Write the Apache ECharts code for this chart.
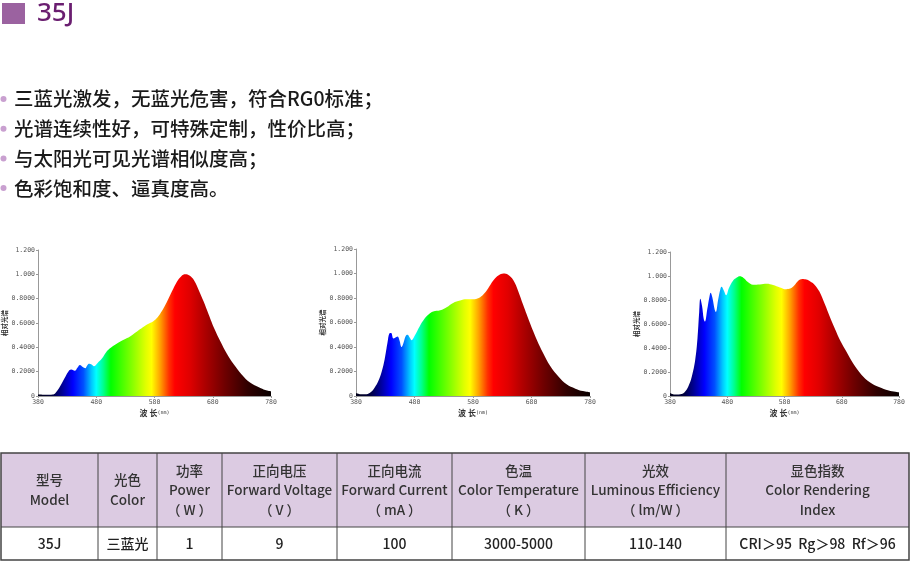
<!DOCTYPE html>
<html lang="zh-CN">
<head>
<meta charset="utf-8">
<title>35J</title>
<script src="https://cdn.jsdelivr.net/npm/echarts@6.0.0/dist/echarts.min.js"></script>
<style>
  html, body { margin: 0; padding: 0; background: #fff; }
  #main { width: 915px; height: 567px; }
</style>
</head>
<body>
<div id="main"></div>
<script>
// spectrum 1 (left)
var wl1 = [380,395,405,410,418,426,432,437,443,448,452,457,461,465,468,472,476,482,490,497,503,515,528,538,550,560,568,578,585,593,601,610,618,626,633,640,648,656,664,673,683,693,704,716,730,744,760,770,780];
var sp1 = [0.012,0.01,0.012,0.025,0.08,0.15,0.2,0.217,0.208,0.235,0.255,0.238,0.228,0.255,0.265,0.258,0.245,0.27,0.31,0.36,0.39,0.43,0.465,0.49,0.53,0.565,0.59,0.615,0.645,0.7,0.77,0.86,0.935,0.985,1.0,0.99,0.95,0.87,0.78,0.67,0.55,0.45,0.35,0.26,0.175,0.11,0.07,0.05,0.04];
// spectrum 2 (middle)
var wl2 = [380,388,398,405,412,418,424,429,434,437,440,444,447,451,454,458,461,465,468,472,475,480,489,497,504,512,524,535,546,558,569,580,590,598,606,615,624,632,640,649,657,666,677,689,700,712,726,740,755,768,780];
var sp2 = [0.025,0.015,0.015,0.03,0.07,0.12,0.2,0.3,0.44,0.51,0.515,0.47,0.475,0.485,0.46,0.4,0.43,0.49,0.5,0.475,0.455,0.49,0.57,0.63,0.665,0.69,0.7,0.725,0.76,0.78,0.79,0.79,0.8,0.83,0.88,0.945,0.985,1.0,0.99,0.945,0.86,0.74,0.6,0.46,0.35,0.245,0.16,0.095,0.06,0.04,0.03];
// spectrum 3 (right)
var wl3 = [380,388,398,405,412,418,424,428,431,433,436,439,441,445,449,451,454,458,460,464,468,470,474,478,483,490,496,502,508,516,525,537,549,560,572,583,590,597,604,611,618,625,632,641,650,660,669,677,688,700,714,729,745,762,780];
var sp3 = [0.025,0.012,0.015,0.03,0.08,0.16,0.3,0.48,0.7,0.81,0.75,0.64,0.62,0.72,0.83,0.86,0.82,0.72,0.7,0.8,0.89,0.91,0.88,0.84,0.9,0.96,0.985,0.997,0.985,0.95,0.928,0.93,0.936,0.925,0.905,0.89,0.895,0.92,0.96,0.975,0.97,0.955,0.93,0.87,0.77,0.65,0.55,0.465,0.37,0.27,0.18,0.115,0.075,0.045,0.03];

var xTicks = ['380','480','580','680','780'];
var yTicks = ['0','0.2000','0.4000','0.6000','0.8000','1.000','1.200'];

// colour under the curve by wavelength
var bandWl = [380,405,420,440,458,472,480,492,505,540,565,575,590,605,615,640,665,700,740,780];
var bandColor = ['#000018','#000040','#00008c','#0000ff','#0050ff','#00c8ff','#00ffff','#00ff90','#00ff00','#80ff00','#e0ff00','#ffff00','#ffa000','#ff3000','#ff0000','#e00000','#b00000','#700000','#300000','#080000'];

var bullets = ['三蓝光激发，无蓝光危害，符合RG0标准；','光谱连续性好，可特殊定制，性价比高；','与太阳光可见光谱相似度高；','色彩饱和度、逼真度高。'];

var headCells = [['型号','Model'],['光色','Color'],['功率','Power','（ W ）'],['正向电压','Forward Voltage','（ V ）'],['正向电流','Forward Current','（ mA ）'],['色温','Color Temperature','（ K ）'],['光效','Luminous Efficiency','（ lm/W ）'],['显色指数','Color Rendering','Index']];
var rowCells = ['35J','三蓝光','1','9','100','3000-5000','110-140','CRI＞95  Rg＞98  Rf＞96'];

var chart = echarts.init(document.getElementById('main'));

var stops = bandWl.map(function (w, i) {
  return { offset: (w - 380) / 400, color: bandColor[i] };
});

var grids = [
  { left: 38, top: 250, width: 233, height: 146 },
  { left: 356, top: 249, width: 234, height: 147 },
  { left: 670, top: 252, width: 229, height: 144 }
];
var specs = [[wl1, sp1], [wl2, sp2], [wl3, sp3]];

var xAxes = [], yAxes = [], series = [];
grids.forEach(function (g, i) {
  xAxes.push({
    gridIndex: i, type: 'value', min: 380, max: 780, interval: 100,
    name: '{a|波 长}{b|(nm)}', nameLocation: 'middle', nameGap: 13,
    nameTextStyle: { rich: { a: { fontSize: 8, fontWeight: 'bold', color: '#333', fontFamily: 'Noto Sans CJK SC' }, b: { fontSize: 5, color: '#333', fontFamily: 'DejaVu Sans Mono' } } },
    axisLine: { lineStyle: { color: '#999', width: 1 } },
    axisTick: { show: true, length: 2, lineStyle: { color: '#999' } },
    splitLine: { show: false },
    axisLabel: { margin: 3, fontSize: 6.5, color: '#555', fontFamily: 'DejaVu Sans Mono', showMinLabel: true, showMaxLabel: true,
      formatter: function (v) { return xTicks[Math.round((v - 380) / 100)]; } }
  });
  yAxes.push({
    gridIndex: i, type: 'value', min: 0, max: 1.2, interval: 0.2,
    name: '相对光谱', nameLocation: 'middle', nameGap: 29, nameRotate: 90,
    nameTextStyle: { fontSize: 6.5, fontWeight: 'bold', color: '#333', fontFamily: 'Noto Sans CJK SC' },
    axisLine: { show: true, lineStyle: { color: '#999', width: 1 } },
    axisTick: { show: true, length: 2, lineStyle: { color: '#999' } },
    splitLine: { show: false },
    axisLabel: { margin: 3, fontSize: 6.5, color: '#555', fontFamily: 'DejaVu Sans Mono',
      formatter: function (v) { return yTicks[Math.round(v / 0.2)]; } }
  });
  series.push({
    type: 'line', xAxisIndex: i, yAxisIndex: i, smooth: 0.4, showSymbol: false, silent: true,
    lineStyle: { width: 0 },
    areaStyle: { opacity: 1, color: new echarts.graphic.LinearGradient(0, 0, 1, 0, stops) },
    data: specs[i][0].map(function (w, k) { return [w, specs[i][1][k]]; })
  });
});

// header, bullet list and spec table
var graphics = [
  { type: 'rect', shape: { x: 2, y: 3, width: 23, height: 21 }, style: { fill: '#9b62a0' } },
  { type: 'text', x: 37, y: 14, style: { text: '35J', font: '500 26px "Noto Sans"', fill: '#6a1e70', textVerticalAlign: 'middle' } }
];
bullets.forEach(function (t, i) {
  var y = 99 + i * 29.7;
  graphics.push({ type: 'circle', shape: { cx: 3.5, cy: y, r: 3 }, style: { fill: '#c9a0d0' } });
  graphics.push({ type: 'text', x: 14, y: y, style: { text: t, font: '500 19.5px "Noto Sans CJK SC"', fill: '#1a1a1a', textVerticalAlign: 'middle' } });
});

var colEdges = [1, 98, 157, 222, 337, 452, 585, 726, 909];
var rowTop = 453, rowMid = 527, rowBot = 560;
graphics.push({ type: 'rect', shape: { x: colEdges[0], y: rowTop, width: colEdges[8] - colEdges[0], height: rowMid - rowTop }, style: { fill: '#dccbe2' } });
graphics.push({ type: 'rect', shape: { x: colEdges[0], y: rowTop, width: colEdges[8] - colEdges[0], height: rowBot - rowTop }, style: { fill: 'none', stroke: '#444', lineWidth: 1.5 } });
graphics.push({ type: 'line', shape: { x1: colEdges[0], y1: rowMid, x2: colEdges[8], y2: rowMid }, style: { stroke: '#444', lineWidth: 1 } });
for (var c = 1; c < colEdges.length - 1; c++) {
  graphics.push({ type: 'line', shape: { x1: colEdges[c], y1: rowTop, x2: colEdges[c], y2: rowBot }, style: { stroke: '#444', lineWidth: 1 } });
}
headCells.forEach(function (lines, c) {
  var cx = (colEdges[c] + colEdges[c + 1]) / 2;
  var y0 = (rowTop + rowMid) / 2 - (lines.length - 1) * 19.5 / 2;
  lines.forEach(function (t, k) {
    graphics.push({ type: 'text', x: cx, y: y0 + k * 19.5, style: { text: t, font: '500 13.5px "Noto Sans CJK SC"', fill: '#333', textAlign: 'center', textVerticalAlign: 'middle' } });
  });
});
rowCells.forEach(function (t, c) {
  var cx = (colEdges[c] + colEdges[c + 1]) / 2;
  graphics.push({ type: 'text', x: cx, y: (rowMid + rowBot) / 2, style: { text: t, font: '500 14px "Noto Sans CJK SC"', fill: '#222', textAlign: 'center', textVerticalAlign: 'middle' } });
});

chart.setOption({
  animation: false,
  grid: grids,
  xAxis: xAxes,
  yAxis: yAxes,
  series: series,
  graphic: graphics
});
</script>
</body>
</html>
